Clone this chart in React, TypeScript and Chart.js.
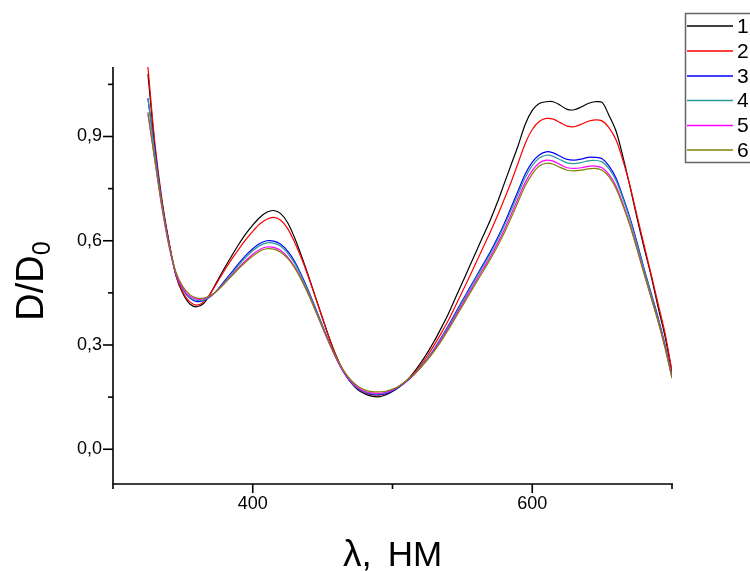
import React, { useEffect, useRef } from 'react';
import { Chart, registerables } from 'chart.js';

Chart.register(...registerables);

// ---- data ----
const wavelengths = [
  325, 330, 335, 340, 345, 350, 355, 360, 365, 370,
  375, 380, 385, 390, 395, 400, 405, 410, 415, 420,
  425, 430, 435, 440, 445, 450, 455, 460, 465, 470,
  475, 480, 485, 490, 495, 500, 505, 510, 515, 520,
  525, 530, 535, 540, 545, 550, 555, 560, 565, 570,
  575, 580, 585, 590, 595, 600, 605, 610, 615, 620,
  625, 630, 635, 640, 645, 650, 655, 660, 665, 670,
  675, 680, 685, 690, 695, 700,
];

const series1 = [
  1.08, 0.87, 0.71, 0.595, 0.50, 0.448, 0.418, 0.41, 0.42, 0.45,
  0.487, 0.523, 0.557, 0.59, 0.62, 0.645, 0.667, 0.682, 0.687, 0.678,
  0.652, 0.608, 0.555, 0.497, 0.437, 0.377, 0.318, 0.266, 0.224, 0.193,
  0.172, 0.16, 0.153, 0.151, 0.156, 0.166, 0.18, 0.197, 0.22, 0.247,
  0.278, 0.312, 0.35, 0.39, 0.435, 0.48, 0.525, 0.57, 0.615, 0.66,
  0.71, 0.765, 0.82, 0.875, 0.935, 0.975, 0.995, 1.0, 1.0, 0.99,
  0.978, 0.977, 0.985, 0.995, 1.0, 0.998, 0.96, 0.915, 0.84, 0.755,
  0.665, 0.58, 0.5, 0.41, 0.325, 0.22,
];

const series2 = [
  1.10, 0.88, 0.72, 0.60, 0.502, 0.452, 0.424, 0.415, 0.424, 0.45,
  0.483, 0.516, 0.547, 0.576, 0.603, 0.627, 0.648, 0.662, 0.667, 0.659,
  0.635, 0.595, 0.548, 0.494, 0.435, 0.375, 0.316, 0.265, 0.225, 0.195,
  0.175, 0.163, 0.157, 0.156, 0.16, 0.169, 0.182, 0.197, 0.217, 0.241,
  0.269, 0.301, 0.335, 0.371, 0.412, 0.454, 0.496, 0.539, 0.582, 0.625,
  0.671, 0.72, 0.77, 0.825, 0.88, 0.92, 0.943, 0.952, 0.95, 0.94,
  0.93, 0.928, 0.935, 0.944, 0.948, 0.945, 0.925, 0.89, 0.83, 0.757,
  0.672, 0.588, 0.505, 0.42, 0.335, 0.225,
];

const series3 = [
  1.01, 0.86, 0.71, 0.595, 0.505, 0.46, 0.435, 0.425, 0.428, 0.44,
  0.46, 0.485, 0.51, 0.535, 0.558, 0.577, 0.592, 0.6, 0.599, 0.59,
  0.57, 0.54, 0.5, 0.455, 0.405, 0.355, 0.305, 0.26, 0.222, 0.194,
  0.175, 0.164, 0.158, 0.157, 0.16, 0.168, 0.18, 0.195, 0.213, 0.235,
  0.261, 0.29, 0.322, 0.356, 0.392, 0.428, 0.463, 0.498, 0.533, 0.568,
  0.607, 0.65, 0.697, 0.745, 0.792, 0.826, 0.847, 0.856, 0.853, 0.843,
  0.834, 0.832, 0.835, 0.84, 0.84, 0.836, 0.815, 0.78, 0.725, 0.665,
  0.595, 0.52, 0.45, 0.38, 0.3, 0.21,
];

const series4 = [
  1.01, 0.85, 0.705, 0.59, 0.505, 0.46, 0.437, 0.428, 0.43, 0.44,
  0.458, 0.482, 0.506, 0.53, 0.552, 0.571, 0.586, 0.594, 0.593, 0.584,
  0.564, 0.535, 0.496, 0.452, 0.403, 0.353, 0.304, 0.26, 0.223, 0.195,
  0.176, 0.165, 0.16, 0.159, 0.162, 0.17, 0.181, 0.196, 0.214, 0.236,
  0.261, 0.288, 0.32, 0.353, 0.388, 0.424, 0.459, 0.494, 0.528, 0.563,
  0.601, 0.643, 0.689, 0.736, 0.782, 0.816, 0.838, 0.846, 0.843, 0.833,
  0.824, 0.822, 0.825, 0.83, 0.831, 0.827, 0.807, 0.773, 0.72, 0.66,
  0.59, 0.517, 0.447, 0.377, 0.298, 0.21,
];

const series5 = [
  0.965, 0.83, 0.695, 0.585, 0.505, 0.462, 0.44, 0.432, 0.433, 0.442,
  0.458, 0.479, 0.501, 0.523, 0.543, 0.561, 0.575, 0.582, 0.581, 0.572,
  0.553, 0.525, 0.488, 0.445, 0.398, 0.349, 0.302, 0.259, 0.223, 0.196,
  0.178, 0.167, 0.162, 0.161, 0.164, 0.171, 0.182, 0.196, 0.214, 0.235,
  0.259, 0.286, 0.316, 0.349, 0.383, 0.418, 0.452, 0.486, 0.52, 0.554,
  0.591, 0.632, 0.677, 0.723, 0.768, 0.802, 0.824, 0.832, 0.829, 0.819,
  0.81, 0.808, 0.81, 0.814, 0.815, 0.81, 0.79, 0.757, 0.705, 0.646,
  0.578, 0.507, 0.438, 0.37, 0.293, 0.205,
];

const series6 = [
  0.97, 0.83, 0.7, 0.59, 0.51, 0.468, 0.445, 0.435, 0.435, 0.443,
  0.458, 0.478, 0.499, 0.52, 0.539, 0.556, 0.57, 0.577, 0.576, 0.567,
  0.549, 0.522, 0.486, 0.444, 0.398, 0.35, 0.304, 0.262, 0.227, 0.2,
  0.182, 0.171, 0.166, 0.165, 0.167, 0.173, 0.183, 0.197, 0.214, 0.234,
  0.257, 0.283, 0.312, 0.344, 0.378, 0.412, 0.446, 0.48, 0.513, 0.547,
  0.583, 0.623, 0.667, 0.713, 0.758, 0.792, 0.815, 0.823, 0.82, 0.811,
  0.803, 0.801, 0.803, 0.807, 0.808, 0.803, 0.784, 0.75, 0.7, 0.642,
  0.575, 0.505, 0.437, 0.368, 0.292, 0.205,
];

const seriesLabels = ['1', '2', '3', '4', '5', '6'];
const seriesColors = ['#000000', '#ff0000', '#0000ff', '#2a9a9a', '#ff00ff', '#808000'];
const allSeries = [series1, series2, series3, series4, series5, series6];

const xLabelTicks = [400, 600];
const xMinorTicks = [300, 500, 700];
const yLabelTicks = [0, 0.3, 0.6, 0.9];
const yMinorTicks = [0.15, 0.45, 0.75, 1.05];

const xTitleSymbol = 'λ,';
const xTitleUnit = 'НМ';
const yTitleMain = 'D/D';
const yTitleSub = '0';

const FONT = "'Liberation Sans', Arial, Helvetica, sans-serif";

const overlayPlugin = {
  id: 'overlay',
  afterDraw(chart: any) {
    const ctx = chart.ctx as CanvasRenderingContext2D;
    const xs = chart.scales.x;
    const ys = chart.scales.y;
    const { left, right, top, bottom } = chart.chartArea;
    ctx.save();
    ctx.strokeStyle = '#000';
    ctx.lineWidth = 1.6;
    ctx.lineCap = 'butt';
    // axes
    ctx.beginPath();
    ctx.moveTo(left, top);
    ctx.lineTo(left, bottom);
    ctx.lineTo(right + 1, bottom);
    ctx.stroke();
    // x ticks
    const drawX = (v: number, len: number) => {
      const px = xs.getPixelForValue(v);
      ctx.beginPath();
      ctx.moveTo(px, bottom);
      ctx.lineTo(px, bottom + len);
      ctx.stroke();
    };
    xLabelTicks.forEach((v) => drawX(v, 9));
    xMinorTicks.forEach((v) => drawX(v, 5));
    const drawY = (v: number, len: number) => {
      const py = ys.getPixelForValue(v);
      ctx.beginPath();
      ctx.moveTo(left, py);
      ctx.lineTo(left - len, py);
      ctx.stroke();
    };
    yLabelTicks.forEach((v) => drawY(v, 10));
    yMinorTicks.forEach((v) => drawY(v, 5));

    // x title
    ctx.fillStyle = '#000';
    ctx.textBaseline = 'alphabetic';
    ctx.textAlign = 'left';
    ctx.font = `37px ${FONT}`;
    const wSym = ctx.measureText(xTitleSymbol).width;
    ctx.font = `35px ${FONT}`;
    const wUnit = ctx.measureText(xTitleUnit).width;
    const gap = 16;
    const total = wSym + gap + wUnit;
    const x0 = (left + right) / 2 - total / 2;
    ctx.font = `37px ${FONT}`;
    ctx.fillText(xTitleSymbol, x0, 566);
    ctx.font = `35px ${FONT}`;
    ctx.fillText(xTitleUnit, x0 + wSym + gap, 566);

    // y title (rotated with subscript)
    ctx.save();
    ctx.translate(43, 281);
    ctx.rotate(-Math.PI / 2);
    ctx.font = `38px ${FONT}`;
    const w1 = ctx.measureText(yTitleMain).width;
    ctx.font = `25px ${FONT}`;
    const w2 = ctx.measureText(yTitleSub).width;
    const start = -(w1 + w2) / 2;
    ctx.textAlign = 'left';
    ctx.font = `38px ${FONT}`;
    ctx.fillText(yTitleMain, start, 0);
    ctx.font = `25px ${FONT}`;
    ctx.fillText(yTitleSub, start + w1, 7);
    ctx.restore();

    // legend
    ctx.strokeStyle = '#666';
    ctx.lineWidth = 1.5;
    ctx.strokeRect(685.5, 13.5, 120, 149);
    const ys0 = [26, 51, 76, 100.5, 125.5, 150];
    ctx.font = `21px ${FONT}`;
    ctx.textAlign = 'left';
    ctx.textBaseline = 'middle';
    chart.data.datasets.forEach((ds: any, i: number) => {
      const y = ys0[i];
      ctx.strokeStyle = ds.borderColor;
      ctx.lineWidth = 1.3;
      ctx.beginPath();
      ctx.moveTo(687, y);
      ctx.lineTo(733, y);
      ctx.stroke();
      ctx.fillStyle = '#000';
      ctx.fillText(ds.label, 737, y + 1);
    });
    ctx.restore();
  },
};

export default function App() {
  const ref = useRef<HTMLCanvasElement>(null);
  useEffect(() => {
    const datasets = allSeries.map((s, i) => ({
      label: seriesLabels[i],
      data: s.map((v, j) => ({ x: wavelengths[j], y: v })),
      borderColor: seriesColors[i],
      backgroundColor: seriesColors[i],
      borderWidth: 1.2,
      pointRadius: 0,
      tension: 0.3,
      fill: false,
      order: 6 - i,
    }));
    const chart = new Chart(ref.current!, {
      type: 'line',
      data: { datasets },
      options: {
        animation: false,
        responsive: false,
        maintainAspectRatio: false,
        layout: { padding: { left: 0, top: 67, right: 78, bottom: 0 } },
        plugins: { legend: { display: false }, tooltip: { enabled: false } },
        scales: {
          x: {
            type: 'linear',
            min: 300,
            max: 700,
            afterBuildTicks: (s: any) => {
              s.ticks = xLabelTicks.map((v) => ({ value: v }));
            },
            afterFit: (s: any) => {
              s.height = 87;
            },
            ticks: {
              callback: (v: any) => String(v),
              font: { size: 18, family: FONT },
              color: '#000',
              padding: 9,
              maxRotation: 0,
              autoSkip: false,
            },
            grid: { display: false, drawTicks: false },
            border: { display: false },
          },
          y: {
            type: 'linear',
            min: -0.1,
            max: 1.1,
            afterBuildTicks: (s: any) => {
              s.ticks = yLabelTicks.map((v) => ({ value: v }));
            },
            afterFit: (s: any) => {
              s.width = 113;
            },
            ticks: {
              callback: (v: any) => Number(v).toFixed(1).replace('.', ','),
              font: { size: 18, family: FONT },
              color: '#000',
              padding: 11,
              autoSkip: false,
            },
            grid: { display: false, drawTicks: false },
            border: { display: false },
          },
        },
      },
      plugins: [overlayPlugin],
    } as any);
    return () => chart.destroy();
  }, []);
  return (
    <div style={{ position: 'fixed', left: 0, top: 0, width: 750, height: 571, background: '#fff' }}>
      <canvas ref={ref} width={750} height={571} style={{ display: 'block', width: 750, height: 571 }} />
    </div>
  );
}
